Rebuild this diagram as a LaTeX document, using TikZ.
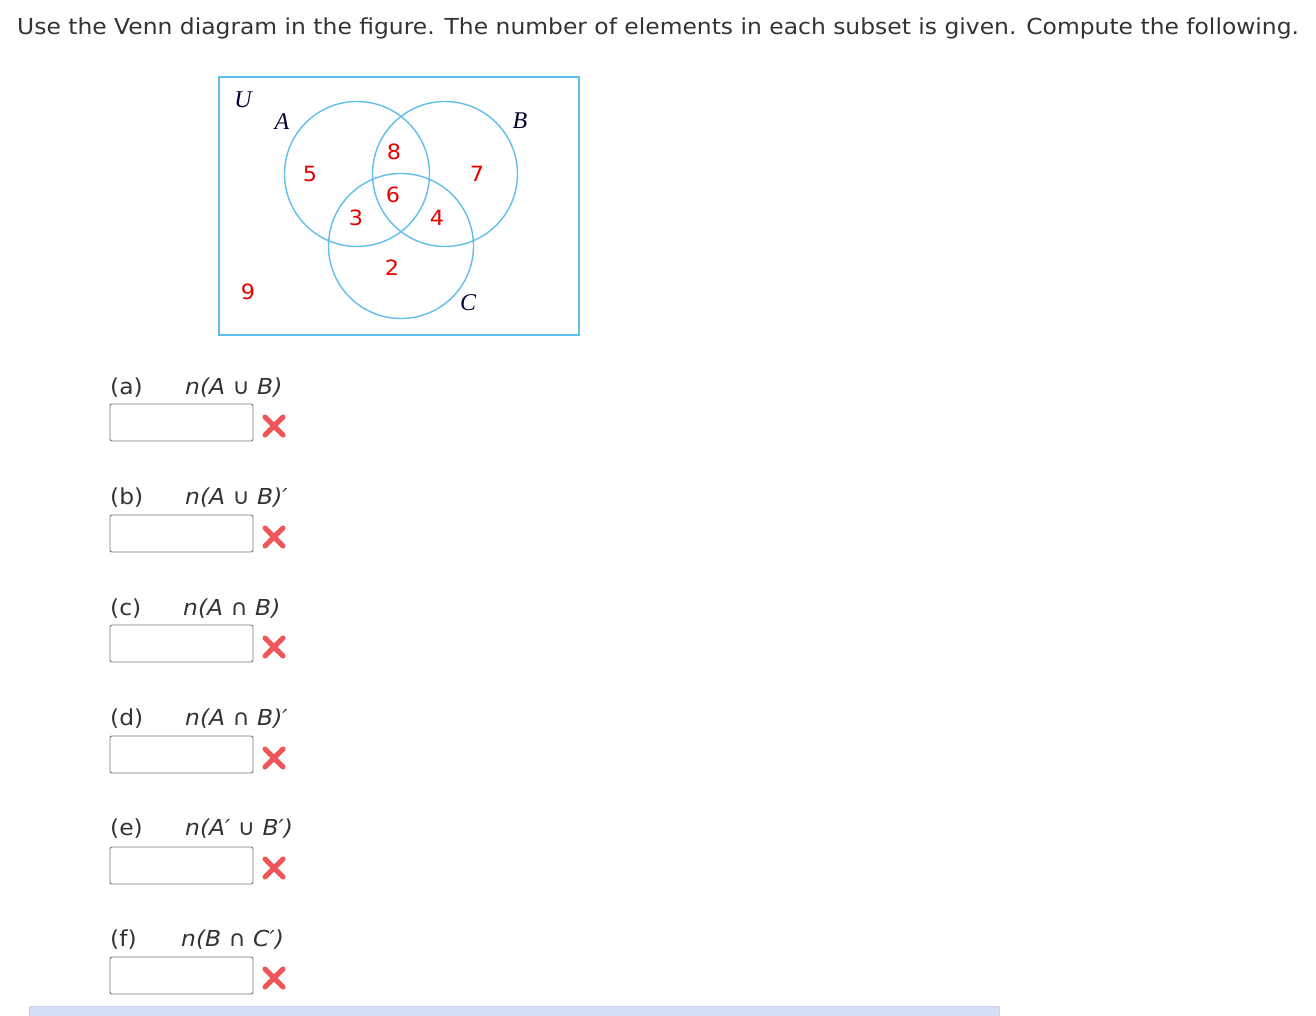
\documentclass[tikz,border=0pt]{standalone}
\usepackage{fontspec}
\setmainfont[FakeStretch=1.064]{DejaVu Sans}
\newfontfamily\setfont{Liberation Serif}
\usetikzlibrary{calc}
\definecolor{vennblue}{RGB}{95,190,235}
\definecolor{numred}{RGB}{235,0,0}
\definecolor{crossred}{RGB}{240,85,90}
\definecolor{boxgray}{RGB}{120,120,120}
\definecolor{barblue}{RGB}{213,222,245}
\definecolor{textgray}{RGB}{51,51,51}

\begin{document}
\begin{tikzpicture}[x=1pt,y=-1pt,
		txt/.style={text=textgray,inner sep=0pt,font=\fontsize{22}{26}\selectfont},
		setname/.style={text=black!80!blue,inner sep=0pt,font=\setfont\itshape\fontsize{24}{28}\selectfont},
		num/.style={text=numred,inner sep=0pt,font=\fontsize{21}{25}\selectfont},
		venn/.style={draw=vennblue,line width=1.4pt},
		ansbox/.style={draw=boxgray,line width=0.9pt,rounded corners=2pt,fill=white},
		wrong/.style={draw=crossred,line width=5pt,line cap=round}]
		%%%%% START %%%%%
		\useasboundingbox (0,0) rectangle (1316,1016);
		
		\node[txt,anchor=west] (intro) at (17,28) {Use the Venn diagram in the figure. The number of elements in each subset is given. Compute the following.};
		
		% universe and the three sets
		\draw[venn] (219,77) rectangle (579,335);
		\draw[venn] (357,174) circle[radius=72.5pt];
		\draw[venn] (445,174) circle[radius=72.5pt];
		\draw[venn] (401,246) circle[radius=72.5pt];
		
		\node[setname] (labU) at (243,100) {U};
		\node[setname] (labA) at (282,122) {A};
		\node[setname] (labB) at (520,121) {B};
		\node[setname] (labC) at (468,303) {C};
		
		\node[num] (onlyA) at (310,174) {5};
		\node[num] (AB) at (394,152) {8};
		\node[num] (onlyB) at (477,174) {7};
		\node[num] (ABC) at (393,195) {6};
		\node[num] (AC) at (356,218) {3};
		\node[num] (BC) at (437,218) {4};
		\node[num] (onlyC) at (392,268) {2};
		\node[num] (outside) at (248,292) {9};
		
		% (a)
		\node[txt,anchor=west] (pa) at (110,388) {(a)};
		\node[txt,anchor=west] (qa) at (185,388) {\itshape n(A \upshape∪\itshape{} B)};
		\draw[ansbox] (110,404) rectangle (253,441);
		\draw[wrong] (265,417) -- (283,435) (283,417) -- (265,435);
		
		% (b)
		\node[txt,anchor=west] (pb) at (110,498) {(b)};
		\node[txt,anchor=west] (qb) at (185,498) {\itshape n(A \upshape∪\itshape{} B)′};
		\draw[ansbox] (110,515) rectangle (253,552);
		\draw[wrong] (265,528) -- (283,546) (283,528) -- (265,546);
		
		% (c)
		\node[txt,anchor=west] (pc) at (110,609) {(c)};
		\node[txt,anchor=west] (qc) at (183,609) {\itshape n(A \upshape∩\itshape{} B)};
		\draw[ansbox] (110,625) rectangle (253,662);
		\draw[wrong] (265,638) -- (283,656) (283,638) -- (265,656);
		
		% (d)
		\node[txt,anchor=west] (pd) at (110,719) {(d)};
		\node[txt,anchor=west] (qd) at (185,719) {\itshape n(A \upshape∩\itshape{} B)′};
		\draw[ansbox] (110,736) rectangle (253,773);
		\draw[wrong] (265,749) -- (283,767) (283,749) -- (265,767);
		
		% (e)
		\node[txt,anchor=west] (pe) at (110,829) {(e)};
		\node[txt,anchor=west] (qe) at (185,829) {\itshape n(A′ \upshape∪\itshape{} B′)};
		\draw[ansbox] (110,847) rectangle (253,884);
		\draw[wrong] (265,859) -- (283,877) (283,859) -- (265,877);
		
		% (f)
		\node[txt,anchor=west] (pf) at (110,940) {(f)};
		\node[txt,anchor=west] (qf) at (181,940) {\itshape n(B \upshape∩\itshape{} C′)};
		\draw[ansbox] (110,957) rectangle (253,994);
		\draw[wrong] (265,969) -- (283,987) (283,969) -- (265,987);
		
		\draw[draw=barblue!80!blue!60,fill=barblue] (29,1006) rectangle (999,1022);
		
		%%%%% END %%%%%
	\end{tikzpicture}
\end{document}
